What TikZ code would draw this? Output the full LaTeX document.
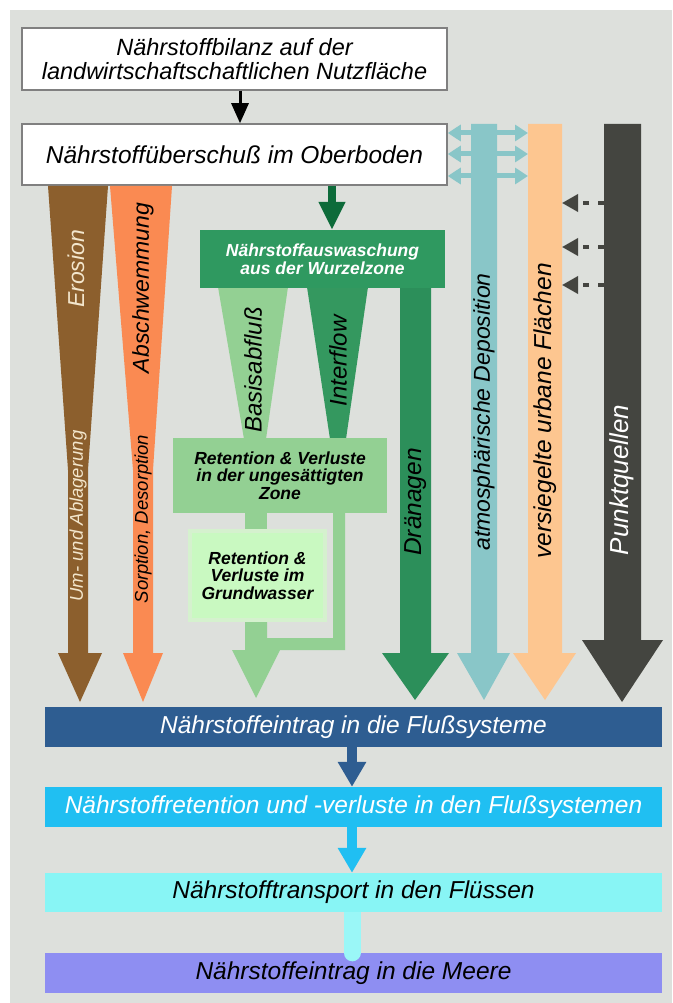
\documentclass[tikz,border=0pt]{standalone}
\usepackage{fontspec}
\setmainfont{Liberation Sans}
\usetikzlibrary{arrows.meta}
\definecolor{bg}{HTML}{DDE0DC}
\definecolor{boxgray}{HTML}{808080}
\definecolor{erobrown}{HTML}{8C5F2D}
\definecolor{abschor}{HTML}{FA8A52}
\definecolor{cream}{HTML}{F3E6CC}
\definecolor{dgreen}{HTML}{0D6B3A}
\definecolor{mgreen}{HTML}{2F9960}
\definecolor{igreen}{HTML}{34985F}
\definecolor{drgreen}{HTML}{2C8F5A}
\definecolor{lgreen}{HTML}{93D093}
\definecolor{gwgreen}{HTML}{C9F9C1}
\definecolor{gwglow}{HTML}{D5F1CE}
\definecolor{teal}{HTML}{89C6C8}
\definecolor{lorange}{HTML}{FDC690}
\definecolor{darkcol}{HTML}{444540}
\definecolor{barblue}{HTML}{2E5D91}
\definecolor{barcyan}{HTML}{20BFF2}
\definecolor{barlcyan}{HTML}{88F5F5}
\definecolor{barpurple}{HTML}{8E8EF2}
\newcommand\bigfont{\fontsize{24.5}{25}\selectfont\itshape}
\newcommand\topfont{\fontsize{23.5}{24.5}\selectfont\itshape}
\newcommand\smallbold{\fontsize{17.5}{17.5}\selectfont\bfseries\itshape}
\begin{document}
\begin{tikzpicture}[x=1pt,y=-1pt,
  box/.style={draw=boxgray,line width=1.5pt,fill=white,inner sep=0pt,align=center,font=\bigfont,minimum width=425pt},
  bar/.style={inner sep=0pt,minimum width=617pt,minimum height=40pt,font=\bigfont},
  rl/.style={rotate=90,inner sep=0pt},
  dbl/.style={teal,line width=5pt,{Triangle[width=16pt,length=13pt]}-{Triangle[width=16pt,length=13pt]}},
  dsh/.style={darkcol,line width=3.5pt,dash pattern=on 6pt off 9pt,-{Triangle[width=17pt,length=16pt]}},
  sarrow/.style={line width=10pt,-{Triangle[width=27pt,length=25pt]}}
]
\useasboundingbox (0,0) rectangle (672,1003);
\fill[white] (0,0) rectangle (672,1003);
\fill[bg] (10,10) rectangle (672,1003);

% top boxes
\node[box,minimum height=62pt,font=\topfont] (b1) at (234.5,59) {Nährstoffbilanz auf der\\landwirtschaftschaftlichen Nutzfläche};
\node[box,minimum height=61pt] (b2) at (234.5,154.5) {Nährstoffüberschuß im Oberboden};
\draw[line width=3pt,-{Triangle[width=17pt,length=20pt]}] ([xshift=5.5pt]b1.south) -- ([xshift=5.5pt]b2.north);

% coordinates
\coordinate (ga) at (332,0);
\coordinate (orW) at (528,0);
\coordinate (orE) at (562,0);
\coordinate (dkW) at (604,0);
\coordinate (y1) at (0,133);
\coordinate (y2) at (0,154);
\coordinate (y3) at (0,176);
\coordinate (d1) at (0,203);
\coordinate (d2) at (0,247);
\coordinate (d3) at (0,285);
\coordinate (ax) at (352,0);
\coordinate (lcy) at (0,905);

% erosion & abschwemmung
\fill[erobrown] (48,186) -- (108,186) -- (88,470) -- (88,653) -- (102,653) -- (80,702) -- (58,653) -- (68,653) -- (68,470) -- cycle;
\fill[abschor] (110,186) -- (172,186) -- (153,470) -- (153,653) -- (163,653) -- (143,702) -- (123,653) -- (133,653) -- (133,470) -- cycle;
\node[rl,text=cream,font=\fontsize{23}{23}\selectfont\itshape] (ero) at (76,269) {Erosion};
\node[rl,text=cream,font=\fontsize{18.5}{18.5}\selectfont\itshape] (uma) at (78,516) {Um- und Ablagerung};
\node[rl,font=\fontsize{23}{23}\selectfont\itshape] (abs) at (143,288) {Abschwemmung};
\node[rl,font=\fontsize{18.5}{18.5}\selectfont\itshape] (sor) at (143,519) {Sorption, Desorption};

% green system
\fill[lgreen] (218,287) -- (288,287) -- (266,439) -- (244,439) -- cycle;
\fill[igreen] (307,287) -- (368,287) -- (346,439) -- (330,439) -- cycle;
\fill[drgreen] (400,287) -- (431,287) -- (431,653) -- (449,653) -- (415,700) -- (382,653) -- (400,653) -- cycle;
\node[fill=mgreen,inner sep=0pt,minimum width=245pt,minimum height=58pt,align=center,text=white,font=\smallbold] (gb) at (322.5,259) {Nährstoffauswaschung\\aus der Wurzelzone};
\draw[dgreen,line width=8pt,-{Triangle[width=25pt,length=28pt]}] (b2.south -| ga) -- (gb.north -| ga);

\fill[lgreen] (245,512) rectangle (267,534);
\fill[lgreen] (245,617) -- (267,617) -- (267,638) -- (333,638) -- (333,512) -- (345,512) -- (345,650) -- (280,650) -- (256,698) -- (232,650) -- (245,650) -- cycle;
\node[fill=lgreen,inner sep=0pt,minimum width=214pt,minimum height=75pt,align=center,font=\smallbold] (ub) at (280,475.5) {Retention \& Verluste\\in der ungesättigten\\Zone};
\fill[gwglow] (188,529) rectangle (327,622);
\node[fill=gwgreen,inner sep=0pt,minimum width=131pt,minimum height=85pt,align=center,font=\smallbold] (gw) at (257.5,575.5) {Retention \&\\Verluste im\\Grundwasser};
\node[rl,font=\fontsize{24}{24}\selectfont\itshape] (bas) at (253,370) {Basisabfluß};
\node[rl,font=\fontsize{24}{24}\selectfont\itshape] (int) at (338,361) {Interflow};
\node[rl,font=\fontsize{24.5}{24.5}\selectfont\itshape] (dra) at (416,502) {Dränagen};

% right columns
\draw[dbl] (b2.east |- y1) -- (orW |- y1);
\draw[dbl] (b2.east |- y2) -- (orW |- y2);
\draw[dbl] (b2.east |- y3) -- (orW |- y3);
\fill[teal] (471,124) -- (497,124) -- (497,653) -- (510,653) -- (484,700) -- (457,653) -- (471,653) -- cycle;
\fill[lorange] (528,124) -- (562,124) -- (562,653) -- (576,653) -- (545,700) -- (513,653) -- (528,653) -- cycle;
\fill[darkcol] (604,124) -- (641,124) -- (641,640) -- (663,640) -- (622,702) -- (582,640) -- (604,640) -- cycle;
\draw[dsh] (dkW |- d1) -- (orE |- d1);
\draw[dsh] (dkW |- d2) -- (orE |- d2);
\draw[dsh] (dkW |- d3) -- (orE |- d3);
\node[rl,font=\fontsize{23}{23}\selectfont\itshape] (atm) at (484,412) {atmosphärische Deposition};
\node[rl,font=\fontsize{24.5}{24.5}\selectfont\itshape] (ver) at (545,411) {versiegelte urbane Flächen};
\node[rl,text=white,font=\fontsize{26}{26}\selectfont\itshape] (pkt) at (622,480) {Punktquellen};

% bottom bars
\node[bar,fill=barblue,text=white] (fs) at (353.5,727) {Nährstoffeintrag in die Flußsysteme};
\node[bar,fill=barcyan,text=white] (rv) at (353.5,807) {Nährstoffretention und -verluste in den Flußsystemen};
\node[bar,fill=barpurple] (me) at (353.5,973) {Nährstoffeintrag in die Meere};
\draw[barlcyan!85!white,line width=17pt,line cap=round] (ax |- lcy) -- (ax |- me.north);
\node[bar,fill=barlcyan,minimum height=39pt] (tr) at (353.5,892.5) {Nährstofftransport in den Flüssen};
\draw[sarrow,barblue] (fs.south -| ax) -- (rv.north -| ax);
\draw[sarrow,barcyan] (rv.south -| ax) -- (tr.north -| ax);
\end{tikzpicture}
\end{document}
